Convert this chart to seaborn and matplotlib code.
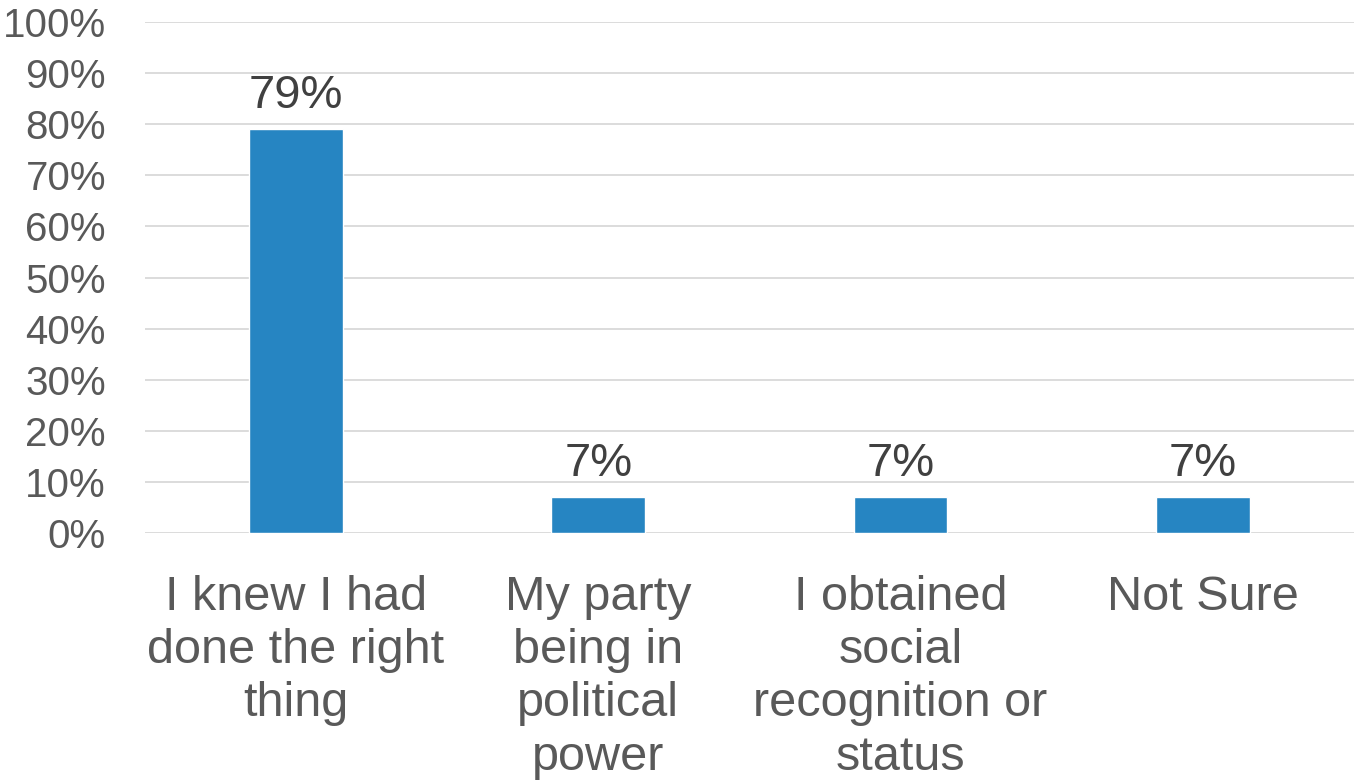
import matplotlib
matplotlib.use("Agg")
import seaborn as sns
import matplotlib.pyplot as plt
from matplotlib.ticker import PercentFormatter

categories = ["I knew I had\ndone the right\nthing",
              "My party\nbeing in\npolitical\npower",
              "I obtained\nsocial\nrecognition or\nstatus",
              "Not Sure"]
values = [79, 7, 7, 7]

sns.set_style("white")
plt.rcParams['font.family'] = ['Liberation Sans', 'DejaVu Sans']

fig = plt.figure(figsize=(13.54, 7.81), dpi=100)
ax = fig.add_axes([0.107, 0.3175, 0.893, 0.6543])

sns.barplot(x=categories, y=values, color="#2685C2", saturation=1, width=0.31, ax=ax)

ax.set_ylim(0, 100)
ax.set_yticks(range(0, 101, 10))
ax.yaxis.set_major_formatter(PercentFormatter(decimals=0))
ax.grid(axis='y', color='#D9D9D9', linewidth=1.3)
ax.set_axisbelow(True)
for s in ax.spines.values():
    s.set_visible(False)

ax.tick_params(axis='y', length=0, pad=28, labelsize=29, labelcolor='#595959')
ax.tick_params(axis='x', length=0, pad=30, labelsize=35, labelcolor='#595959')
for t in ax.get_xticklabels():
    t.set_linespacing(1.24)
ax.set_xlabel('')
ax.set_ylabel('')

ax.bar_label(ax.containers[0], fmt='%d%%', padding=8, fontsize=34, color='#404040')

fig.savefig("out.png", dpi=100)
